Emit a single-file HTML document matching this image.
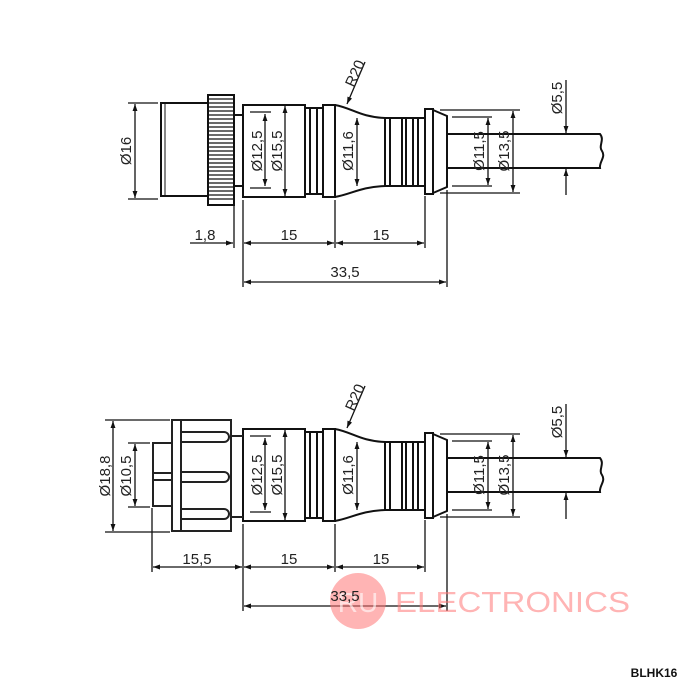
<!DOCTYPE html>
<html><head><style>
html,body{margin:0;padding:0;background:#fff;width:700px;height:700px;overflow:hidden}
svg text{font-family:"Liberation Sans",sans-serif;font-size:15px;fill:#222}
</style></head><body>
<svg width="700" height="700" viewBox="0 0 700 700" xmlns="http://www.w3.org/2000/svg">
<defs>
<marker id="a" viewBox="0 0 10 10" refX="10" refY="5" markerWidth="9" markerHeight="7" orient="auto-start-reverse" markerUnits="userSpaceOnUse"><path d="M0,1.5 L10,5 L0,8.5 Z" fill="#111"/></marker>
<g id="rear" fill="none" stroke="#111" stroke-width="2">
  <rect x="243" y="105" width="62" height="92"/>
  <rect x="305" y="108" width="18" height="86"/>
  <line x1="310" y1="108" x2="310" y2="194"/><line x1="317" y1="108" x2="317" y2="194"/>
  <rect x="323" y="105" width="12" height="92"/>
  <path d="M335,105 C352,108 360,117 385,118 L385,186 C360,187 352,194 335,197"/>
  <rect x="385" y="118" width="40" height="68"/>
  <line x1="390" y1="118" x2="390" y2="186"/>
  <line x1="402" y1="118" x2="402" y2="186"/><line x1="406" y1="118" x2="406" y2="186"/>
  <line x1="413" y1="118" x2="413" y2="186"/><line x1="418" y1="118" x2="418" y2="186"/>
  <rect x="425" y="109" width="8" height="85"/>
  <path d="M433,110 L447,116 L447,187 L433,193"/>
  <path d="M447,134 L600,134 C605,140 598,146 602,151 C606,157 599,162 600,168 L447,168"/>
</g>
<g id="rdim" fill="none" stroke="#111" stroke-width="1.3">
  <line x1="250" y1="112" x2="271" y2="112"/><line x1="250" y1="188" x2="271" y2="188"/>
  <line x1="265" y1="114" x2="265" y2="186" marker-start="url(#a)" marker-end="url(#a)"/>
  <line x1="285" y1="106" x2="285" y2="196" marker-start="url(#a)" marker-end="url(#a)"/>
  <line x1="357" y1="118" x2="357" y2="186" marker-start="url(#a)" marker-end="url(#a)"/>
  <line x1="452" y1="117" x2="492" y2="117"/><line x1="452" y1="186" x2="492" y2="186"/>
  <line x1="488" y1="118" x2="488" y2="185" marker-start="url(#a)" marker-end="url(#a)"/>
  <line x1="440" y1="110" x2="520" y2="110"/><line x1="440" y1="193" x2="520" y2="193"/>
  <line x1="513" y1="111" x2="513" y2="192" marker-start="url(#a)" marker-end="url(#a)"/>
  <line x1="566" y1="80" x2="566" y2="133" marker-end="url(#a)"/>
  <line x1="566" y1="195" x2="566" y2="169" marker-end="url(#a)"/>
  <line x1="365" y1="62" x2="347" y2="104" marker-end="url(#a)"/>
  <line x1="243" y1="200" x2="243" y2="287"/><line x1="335" y1="200" x2="335" y2="248"/>
  <line x1="425" y1="196" x2="425" y2="248"/><line x1="447" y1="190" x2="447" y2="287"/>
  <line x1="244" y1="243" x2="334" y2="243" marker-start="url(#a)" marker-end="url(#a)"/>
  <line x1="336" y1="243" x2="424" y2="243" marker-start="url(#a)" marker-end="url(#a)"/>
  <line x1="244" y1="282" x2="446" y2="282" marker-start="url(#a)" marker-end="url(#a)"/>
</g>
</defs>

<!-- TOP -->
<use href="#rear"/><use href="#rdim"/>
<g fill="none" stroke="#111" stroke-width="2">
  <rect x="161" y="103" width="47" height="93"/>
  <line x1="165" y1="103" x2="165" y2="196" stroke-width="1"/>
  <rect x="208" y="95" width="26" height="110"/>
  <path d="M208,99h26M208,103h26M208,107h26M208,111h26M208,115h26M208,119h26M208,123h26M208,127h26M208,131h26M208,135h26M208,139h26M208,143h26M208,147h26M208,151h26M208,155h26M208,159h26M208,163h26M208,167h26M208,171h26M208,175h26M208,179h26M208,183h26M208,187h26M208,191h26M208,195h26M208,199h26" stroke-width="1.2"/>
  <path d="M234,115 L243,115 M234,186 L243,186"/>
</g>
<g fill="none" stroke="#111" stroke-width="1.3">
  <line x1="128" y1="103" x2="158" y2="103"/><line x1="128" y1="199" x2="158" y2="199"/>
  <line x1="135" y1="104" x2="135" y2="198" marker-start="url(#a)" marker-end="url(#a)"/>
  <line x1="234" y1="205" x2="234" y2="248"/>
  <line x1="190" y1="243" x2="233" y2="243" marker-end="url(#a)"/>
</g>
<text transform="translate(131,151) rotate(-90)" text-anchor="middle">Ø16</text>
<text transform="translate(262,151) rotate(-90)" text-anchor="middle">Ø12,5</text>
<text transform="translate(282,151) rotate(-90)" text-anchor="middle">Ø15,5</text>
<text transform="translate(353,151) rotate(-90)" text-anchor="middle">Ø11,6</text>
<text transform="translate(484,151) rotate(-90)" text-anchor="middle">Ø11,5</text>
<text transform="translate(509,151) rotate(-90)" text-anchor="middle">Ø13,5</text>
<text transform="translate(562,98) rotate(-90)" text-anchor="middle">Ø5,5</text>
<text transform="translate(354,88) rotate(-66)">R20</text>
<text x="205" y="240" text-anchor="middle">1,8</text>
<text x="289" y="240" text-anchor="middle">15</text>
<text x="381" y="240" text-anchor="middle">15</text>
<text x="345" y="277" text-anchor="middle">33,5</text>

<!-- BOTTOM -->
<use href="#rear" transform="translate(0,324)"/><use href="#rdim" transform="translate(0,324)"/>
<g fill="none" stroke="#222" stroke-width="2">
  <rect x="153" y="443" width="19" height="63"/>
  <line x1="153" y1="473" x2="172" y2="473"/><line x1="153" y1="480" x2="172" y2="480"/>
  <rect x="172" y="420" width="59" height="111"/>
  <path d="M181,420 V531"/>
  <path d="M181,432 H224 a5,5 0 0 1 0,10 H181"/>
  <path d="M181,472 H224 a5,5 0 0 1 0,10 H181"/>
  <path d="M181,509 H224 a5,5 0 0 1 0,10 H181"/>
  <path d="M231,436 H243 M231,517 H243"/>
</g>
<g fill="none" stroke="#111" stroke-width="1.3">
  <line x1="105" y1="420" x2="170" y2="420"/><line x1="105" y1="532" x2="170" y2="532"/>
  <line x1="113" y1="421" x2="113" y2="531" marker-start="url(#a)" marker-end="url(#a)"/>
  <line x1="128" y1="443" x2="150" y2="443"/><line x1="128" y1="507" x2="150" y2="507"/>
  <line x1="135" y1="444" x2="135" y2="506" marker-start="url(#a)" marker-end="url(#a)"/>
  <line x1="152" y1="508" x2="152" y2="572"/>
  <line x1="153" y1="567" x2="242" y2="567" marker-start="url(#a)" marker-end="url(#a)"/>
</g>
<text transform="translate(110,476) rotate(-90)" text-anchor="middle">Ø18,8</text>
<text transform="translate(131,476) rotate(-90)" text-anchor="middle">Ø10,5</text>
<text transform="translate(262,475) rotate(-90)" text-anchor="middle">Ø12,5</text>
<text transform="translate(282,475) rotate(-90)" text-anchor="middle">Ø15,5</text>
<text transform="translate(353,475) rotate(-90)" text-anchor="middle">Ø11,6</text>
<text transform="translate(484,475) rotate(-90)" text-anchor="middle">Ø11,5</text>
<text transform="translate(509,475) rotate(-90)" text-anchor="middle">Ø13,5</text>
<text transform="translate(562,422) rotate(-90)" text-anchor="middle">Ø5,5</text>
<text transform="translate(354,412) rotate(-66)">R20</text>
<text x="197" y="564" text-anchor="middle">15,5</text>
<text x="289" y="564" text-anchor="middle">15</text>
<text x="381" y="564" text-anchor="middle">15</text>

<!-- watermark -->
<circle cx="358" cy="601" r="28" fill="#f77" opacity="0.55"/>
<text x="358" y="612" text-anchor="middle" style="font-size:28px;fill:#fff;opacity:0.6">RU</text>
<text x="395" y="612" textLength="235" lengthAdjust="spacingAndGlyphs" style="font-size:29px;fill:#f77;opacity:0.55">ELECTRONICS</text>
<text x="345" y="601" text-anchor="middle">33,5</text>

<text x="654" y="677" text-anchor="middle" style="font-size:12px;font-weight:bold;fill:#111">BLHK16</text>
</svg>
</body></html>
